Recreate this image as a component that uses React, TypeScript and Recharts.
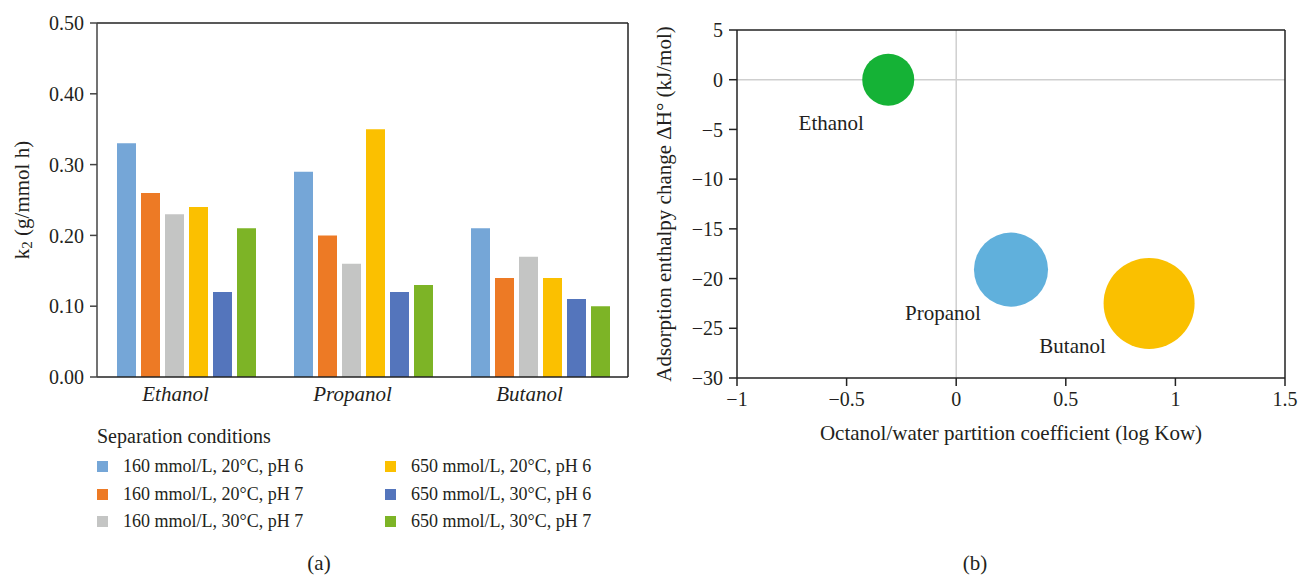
import React from 'react'
import {
  BarChart,
  Bar,
  XAxis,
  YAxis,
  ScatterChart,
  Scatter,
  ZAxis,
  ReferenceLine,
  Label,
} from 'recharts'

// ---- datos panel (a): k2 por alcohol y condición de separación ----
const categories = ['Ethanol', 'Propanol', 'Butanol']
const seriesNames = [
  '160 mmol/L, 20°C, pH 6',
  '160 mmol/L, 20°C, pH 7',
  '160 mmol/L, 30°C, pH 7',
  '650 mmol/L, 20°C, pH 6',
  '650 mmol/L, 30°C, pH 6',
  '650 mmol/L, 30°C, pH 7',
]
const seriesColors = ['#75a6d7', '#ed7a25', '#c4c5c4', '#fbc000', '#5475bc', '#7db426']
const seriesValues = [
  [0.33, 0.29, 0.21],
  [0.26, 0.2, 0.14],
  [0.23, 0.16, 0.17],
  [0.24, 0.35, 0.14],
  [0.12, 0.12, 0.11],
  [0.21, 0.13, 0.1],
]
const k2Ticks = [0, 0.1, 0.2, 0.3, 0.4, 0.5]

// ---- datos panel (b): burbujas ----
const alcohols = ['Ethanol', 'Propanol', 'Butanol']
const logKow = [-0.31, 0.25, 0.88]
const deltaH = [0, -19.1, -22.5]
const bubbleSize = [1, 2, 3]
const bubbleColors = ['#15b236', '#60b0dc', '#fac000']
const kowTicks = [-1, -0.5, 0, 0.5, 1, 1.5]
const dhTicks = [5, 0, -5, -10, -15, -20, -25, -30]

const FONT = '"Liberation Serif", "DejaVu Serif", serif'
const TXT = '#231f20'

const barData = categories.map((name, i) => {
  const row: Record<string, string | number> = { name }
  seriesValues.forEach((vals, s) => {
    row[`s${s}`] = vals[i]
  })
  return row
})

const bubbleData = alcohols.map((name, i) => ({
  name,
  x: logKow[i],
  y: deltaH[i],
  z: bubbleSize[i],
  color: bubbleColors[i],
}))

const minus = (v: number) => String(v).replace('-', '\u2212')

function CategoryTick({ x, y, payload }: any) {
  return (
    <text
      x={x - 10}
      y={y + 16}
      textAnchor="middle"
      fontFamily={FONT}
      fontStyle="italic"
      fontSize={21}
      fill={TXT}
    >
      {payload.value}
    </text>
  )
}

function K2Label({ viewBox }: any) {
  const cx = 22
  const cy = viewBox.y + viewBox.height / 2
  return (
    <text
      x={cx}
      y={cy}
      transform={`rotate(-90 ${cx} ${cy})`}
      textAnchor="middle"
      dominantBaseline="central"
      fontFamily={FONT}
      fontSize={21}
      fill={TXT}
    >
      k<tspan fontSize={15} dy={5}>2</tspan>
      <tspan dy={-5}> (g/mmol h)</tspan>
    </text>
  )
}

// burbuja con su etiqueta abajo a la izquierda
function Bubble(props: any) {
  const { cx, cy, payload } = props
  const r = props.size ? Math.sqrt(props.size / Math.PI) : props.width / 2
  return (
    <g>
      <circle cx={cx} cy={cy} r={r} fill={payload.color} />
      <text
        x={cx - r - 31}
        y={cy + 43}
        textAnchor="middle"
        dominantBaseline="central"
        fontFamily={FONT}
        fontSize={21}
        fill={TXT}
      >
        {payload.name}
      </text>
    </g>
  )
}

function ConditionsLegend() {
  const rows = [0, 1, 2]
  return (
    <div
      style={{
        position: 'absolute',
        left: 97,
        top: 424,
        fontFamily: FONT,
        color: TXT,
        fontSize: 18,
      }}
    >
      <div style={{ lineHeight: '24px', fontSize: 20, marginBottom: 5 }}>Separation conditions</div>
      {rows.map((r) => (
        <div key={r} style={{ display: 'flex', height: 27.5, alignItems: 'center' }}>
          {[r, r + 3].map((s, col) => (
            <div
              key={s}
              style={{
                display: 'flex',
                alignItems: 'center',
                width: col === 0 ? 288 : 260,
              }}
            >
              <div
                style={{
                  width: 11,
                  height: 11,
                  background: seriesColors[s],
                  marginRight: 15,
                }}
              />
              <span>{seriesNames[s]}</span>
            </div>
          ))}
        </div>
      ))}
    </div>
  )
}

export default function App() {
  const tickStyle = { fill: TXT, fontSize: 20, fontFamily: FONT }
  const caption = {
    position: 'absolute' as const,
    top: 551,
    width: 40,
    textAlign: 'center' as const,
    fontFamily: FONT,
    fontSize: 21,
    color: TXT,
  }
  return (
    <div
      style={{
        position: 'absolute',
        left: 0,
        top: 0,
        width: 1299,
        height: 575,
        background: '#fff',
      }}
    >
      <div style={{ position: 'absolute', left: 0, top: 0 }}>
        <BarChart
          width={650}
          height={420}
          data={barData}
          margin={{ top: 23, right: 0, left: 0, bottom: 0 }}
          barGap={5}
          barCategoryGap={20}
        >
          <XAxis
            dataKey="name"
            height={43}
            tickLine={false}
            axisLine={{ stroke: '#222', strokeWidth: 1.5 }}
            tick={<CategoryTick />}
          />
          <YAxis
            width={97}
            domain={[0, 0.5]}
            ticks={k2Ticks}
            tickFormatter={(v: number) => v.toFixed(2)}
            tick={tickStyle}
            tickSize={7}
            tickMargin={6}
            axisLine={{ stroke: '#444', strokeWidth: 1.5 }}
            tickLine={{ stroke: '#444', strokeWidth: 1.5 }}
          >
            <Label content={<K2Label />} />
          </YAxis>
          <YAxis
            yAxisId="frame"
            orientation="right"
            width={22}
            tick={false}
            tickLine={false}
            axisLine={{ stroke: '#222', strokeWidth: 1.5 }}
          />
          <ReferenceLine y={0.5} stroke="#222" strokeWidth={1.5} ifOverflow="visible" />
          {seriesNames.map((n, s) => (
            <Bar
              key={n}
              dataKey={`s${s}`}
              name={n}
              fill={seriesColors[s]}
              isAnimationActive={false}
            />
          ))}
        </BarChart>
      </div>
      <ConditionsLegend />
      <div style={{ ...caption, left: 299 }}>(a)</div>

      <div style={{ position: 'absolute', left: 640, top: 0 }}>
        <ScatterChart
          width={660}
          height={460}
          margin={{ top: 30, right: 15, left: 0, bottom: 0 }}
        >
          <XAxis
            type="number"
            dataKey="x"
            domain={[-1, 1.5]}
            ticks={kowTicks}
            tickFormatter={minus}
            tick={tickStyle}
            tickSize={8}
            tickMargin={6}
            height={82}
            axisLine={{ stroke: '#222', strokeWidth: 1.5 }}
            tickLine={{ stroke: '#222', strokeWidth: 1.5 }}
          >
            <Label
              value="Octanol/water partition coefficient (log Kow)"
              position="insideBottom"
              offset={20}
              style={{ fill: TXT, fontSize: 21, fontFamily: FONT }}
            />
          </XAxis>
          <YAxis
            type="number"
            dataKey="y"
            width={97}
            domain={[-30, 5]}
            ticks={dhTicks}
            tickFormatter={minus}
            tick={tickStyle}
            tickSize={8}
            tickMargin={6}
            axisLine={{ stroke: '#222', strokeWidth: 1.5 }}
            tickLine={{ stroke: '#222', strokeWidth: 1.5 }}
          >
            <Label
              value="Adsorption enthalpy change ΔH° (kJ/mol)"
              angle={-90}
              position="insideLeft"
              offset={24}
              style={{ fill: TXT, fontSize: 21, fontFamily: FONT, textAnchor: 'middle' }}
            />
          </YAxis>
          <ZAxis type="number" dataKey="z" domain={[1, 3]} range={[2124, 6504]} />
          <ReferenceLine y={0} stroke="#cfcfcf" strokeWidth={1.5} />
          <ReferenceLine x={0} stroke="#cfcfcf" strokeWidth={1.5} />
          <ReferenceLine y={5} stroke="#222" strokeWidth={1.5} ifOverflow="visible" />
          <ReferenceLine x={1.5} stroke="#222" strokeWidth={1.5} ifOverflow="visible" />
          <Scatter data={bubbleData} shape={<Bubble />} isAnimationActive={false} />
        </ScatterChart>
      </div>
      <div style={{ ...caption, left: 955 }}>(b)</div>
    </div>
  )
}
